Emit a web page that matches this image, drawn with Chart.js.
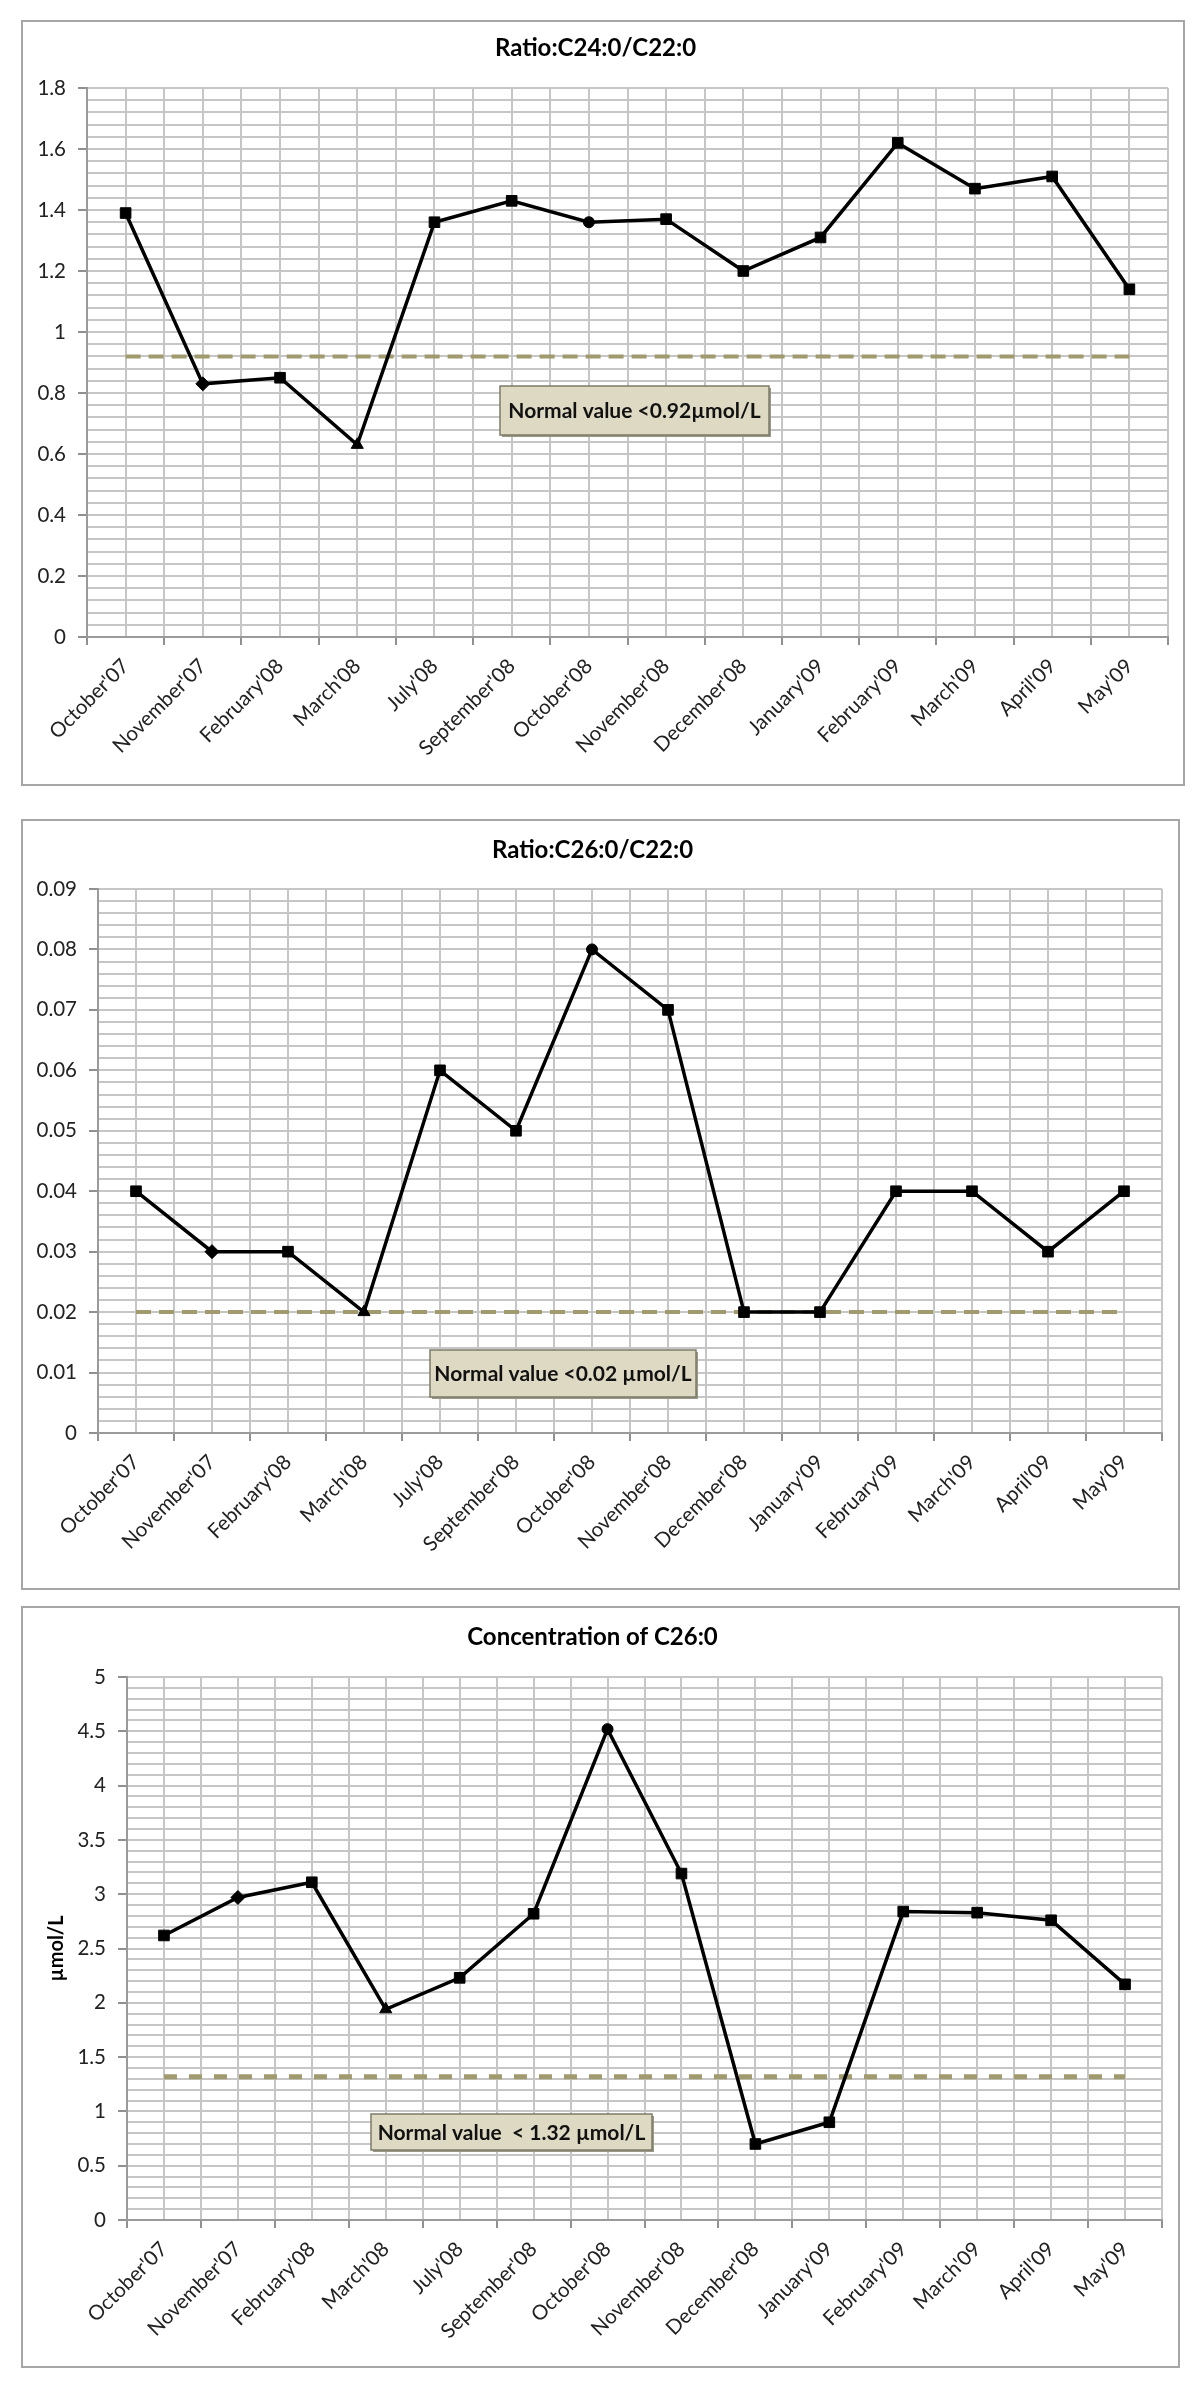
<!DOCTYPE html>
<html>
<head>
<meta charset="utf-8">
<script src="https://cdn.jsdelivr.net/npm/chart.js@4.4.1/dist/chart.umd.min.js"></script>
<style>
  html, body { margin: 0; padding: 0; background: #fff; }
  body { width: 1200px; height: 2382px; position: relative; }
  .panel { position: absolute; border: 2px solid #a6a6a6; box-sizing: border-box; background: #fff; }
  .panel canvas { display: block; }
</style>
</head>
<body>
<div class="panel" style="left:21px;top:20px;width:1164px;height:766px;"><canvas id="c1" width="1160" height="762"></canvas></div>
<div class="panel" style="left:21px;top:819px;width:1159px;height:771px;"><canvas id="c2" width="1155" height="767"></canvas></div>
<div class="panel" style="left:21px;top:1606px;width:1159px;height:762px;"><canvas id="c3" width="1155" height="758"></canvas></div>

<script>
// Sampling dates (x axis)
const months = ["October'07", "November'07", "February'08", "March'08", "July'08", "September'08",
  "October'08", "November'08", "December'08", "January'09", "February'09", "March'09", "April'09", "May'09"];

const ratioC24 = [1.39, 0.83, 0.85, 0.63, 1.36, 1.43, 1.36, 1.37, 1.20, 1.31, 1.62, 1.47, 1.51, 1.14];
const ratioC26 = [0.04, 0.03, 0.03, 0.02, 0.06, 0.05, 0.08, 0.07, 0.02, 0.02, 0.04, 0.04, 0.03, 0.04];
const concC26 = [2.62, 2.97, 3.11, 1.94, 2.23, 2.82, 4.52, 3.19, 0.70, 0.90, 2.84, 2.83, 2.76, 2.17];

// Upper normal limits
const normalC24 = 0.92;
const normalRatioC26 = 0.02;
const normalC26 = 1.32;

// Marker shape per point (same in every panel)
const markerStyle = ['rect', 'rectRot', 'rect', 'triangle', 'rect', 'rect', 'circle',
  'rect', 'rect', 'rect', 'rect', 'rect', 'rect', 'rect'];
const markerSize = { rect: 7.5, rectRot: 7, triangle: 7, circle: 5.5 };

const gridColor = '#c6c6c6';
const axisColor = '#9a9a9a';

Chart.defaults.font.family = 'Lato, "Open Sans", sans-serif';

// Draws the beige "Normal value" label box
const noteBox = {
  id: 'noteBox',
  afterDraw(chart, args, opts) {
    const ctx = chart.ctx;
    ctx.save();
    ctx.fillStyle = '#9a9886';
    ctx.fillRect(opts.x + 2, opts.y + 2, opts.w, opts.h);
    ctx.fillStyle = '#ddd9c3';
    ctx.fillRect(opts.x, opts.y, opts.w, opts.h);
    ctx.strokeStyle = '#7d7b68';
    ctx.lineWidth = 1.5;
    ctx.strokeRect(opts.x, opts.y, opts.w, opts.h);
    ctx.font = 'bold 21px Lato, "Open Sans", sans-serif';
    ctx.fillStyle = '#111';
    ctx.textAlign = 'center';
    ctx.textBaseline = 'middle';
    ctx.fillText(opts.text, opts.x + opts.w / 2, opts.y + opts.h / 2 + 1);
    ctx.restore();
  }
};

function buildChart(id, o) {
  const isMajor = v => Math.abs(v / o.major - Math.round(v / o.major)) < 1e-6;
  return new Chart(document.getElementById(id), {
    type: 'line',
    data: {
      labels: months,
      datasets: [{
        data: o.values,
        borderColor: '#000',
        borderWidth: 3.5,
        tension: 0,
        pointStyle: markerStyle,
        pointRadius: markerStyle.map(s => markerSize[s]),
        pointBackgroundColor: '#000',
        pointBorderColor: '#000',
        pointBorderWidth: 1
      }, {
        data: [{ x: months[0], y: o.normal }, { x: months[months.length - 1], y: o.normal }],
        borderColor: '#a09a6e',
        borderWidth: o.dashWidth,
        borderDash: o.dash,
        borderCapStyle: 'butt',
        pointRadius: 0
      }]
    },
    options: {
      responsive: false,
      animation: false,
      devicePixelRatio: 1,
      layout: { padding: { left: 0, right: o.padRight, top: 0, bottom: 0 } },
      plugins: {
        legend: { display: false },
        tooltip: { enabled: false },
        title: {
          display: true,
          text: o.title,
          color: '#000',
          font: { size: 24, weight: 'bold' },
          padding: { top: o.titleTop, bottom: o.titleBottom }
        },
        noteBox: o.note
      },
      scales: {
        xb: {
          type: 'category',
          position: 'bottom',
          offset: true,
          weight: 0,
          ticks: { display: false },
          grid: { offset: true, color: gridColor, lineWidth: 2, tickLength: 8, tickColor: '#909090', tickWidth: 2 },
          border: { color: axisColor, width: 2 }
        },
        x: {
          type: 'category',
          position: 'bottom',
          offset: true,
          weight: 1,
          grid: { offset: false, color: gridColor, lineWidth: 2, drawTicks: false },
          border: { display: false },
          ticks: { autoSkip: false, minRotation: 45, maxRotation: 45, padding: 9, color: '#222', font: { size: 20.5 } },
          afterFit: s => { s.height = o.xHeight; }
        },
        y: {
          min: o.min,
          max: o.max,
          ticks: {
            stepSize: o.minor,
            autoSkip: false,
            padding: 12,
            color: '#222',
            font: { size: 20.5 },
            callback: v => isMajor(v) ? String(v) : ''
          },
          grid: {
            color: gridColor,
            lineWidth: 2,
            tickLength: 9,
            tickWidth: 2,
            tickColor: c => isMajor(c.tick.value) ? '#909090' : 'rgba(0,0,0,0)'
          },
          border: { color: axisColor, width: 2 },
          title: o.yTitle ? {
            display: true, text: o.yTitle, color: '#000',
            font: { size: 20, weight: 'bold' }, padding: { top: 22, bottom: 0 }
          } : { display: false },
          afterFit: s => { s.width = o.yWidth; }
        }
      }
    },
    plugins: [noteBox]
  });
}

buildChart('c1', {
  title: 'Ratio:C24:0/C22:0',
  values: ratioC24, normal: normalC24,
  min: 0, max: 1.8, major: 0.2, minor: 0.04,
  dash: [15, 8], dashWidth: 4,
  yWidth: 64, xHeight: 139, padRight: 15,
  titleTop: 11.6, titleBottom: 25.6,
  note: { x: 477, y: 364, w: 269, h: 49, text: 'Normal value <0.92\u00b5mol/L' }
});

buildChart('c2', {
  title: 'Ratio:C26:0/C22:0',
  values: ratioC26, normal: normalRatioC26,
  min: 0, max: 0.09, major: 0.01, minor: 0.002,
  dash: [15, 8], dashWidth: 4,
  yWidth: 75, xHeight: 147, padRight: 16,
  titleTop: 14.6, titleBottom: 24.6,
  note: { x: 407, y: 529, w: 266, h: 47, text: 'Normal value <0.02 \u00b5mol/L' }
});

buildChart('c3', {
  title: 'Concentration of C26:0',
  values: concC26, normal: normalC26,
  min: 0, max: 5, major: 0.5, minor: 0.1,
  dash: [13, 12], dashWidth: 5,
  yWidth: 104, xHeight: 138, padRight: 16, yTitle: '\u00b5mol/L',
  titleTop: 14.6, titleBottom: 25.6,
  note: { x: 348, y: 506, w: 281, h: 36, text: 'Normal value  < 1.32 \u00b5mol/L' }
});
</script>
</body>
</html>
